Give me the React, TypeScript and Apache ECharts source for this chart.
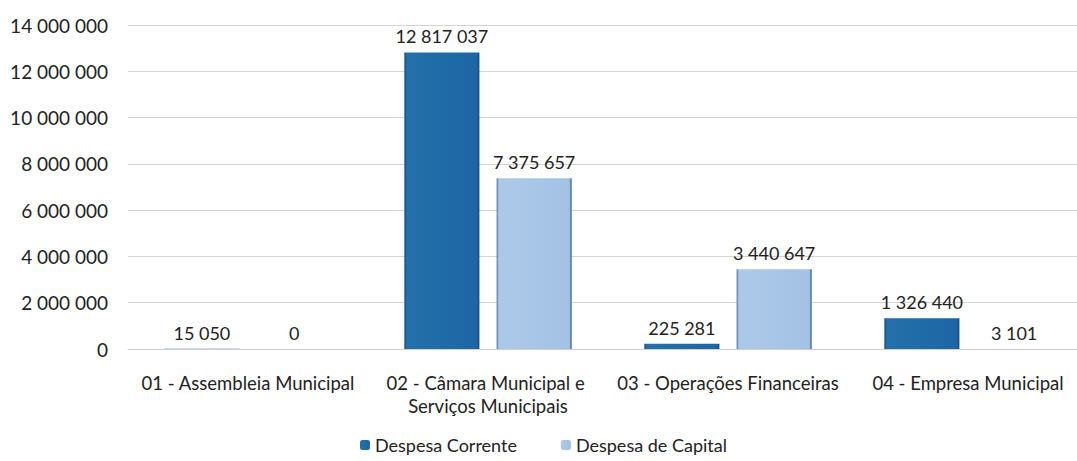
import React, { useEffect, useRef } from "react";
import * as echarts from "echarts";

const categories = [
  "01 - Assembleia Municipal",
  "02 - Câmara Municipal e Serviços Municipais",
  "03 - Operações Financeiras",
  "04 - Empresa Municipal",
];
const despesaCorrente = [15050, 12817037, 225281, 1326440];
const despesaCapital = [0, 7375657, 3440647, 3101];
const seriesNames = ["Despesa Corrente", "Despesa de Capital"];

const fmt = (v: number) => String(Math.round(v)).replace(/\B(?=(\d{3})+(?!\d))/g, " ");

const FONT = "Lato";

export default function App() {
  const ref = useRef<HTMLDivElement>(null);
  useEffect(() => {
    const chart = echarts.init(ref.current!, null, { renderer: "svg" });
    const labelCfg = {
      show: true,
      position: "top" as const,
      distance: 7,
      color: "#222",
      fontFamily: FONT,
      fontSize: 18,
      formatter: (p: any) => fmt(p.value),
    };
    chart.setOption({
      animation: false,
      backgroundColor: "#ffffff",
      grid: {
        left: 128,
        right: -11,
        top: 25,
        bottom: 112,
        containLabel: false,
        outerBoundsMode: "none",
      },
      legend: {
        bottom: 2,
        left: 355,
        itemWidth: 10,
        itemHeight: 10,
        itemGap: 44,
        textStyle: { fontFamily: FONT, fontSize: 18, color: "#222" },
        data: seriesNames,
      },
      xAxis: {
        type: "category",
        data: categories,
        axisLine: { show: true, lineStyle: { color: "#cfcfcf", width: 1 } },
        axisTick: { show: false },
        axisLabel: {
          interval: 0,
          color: "#222",
          fontFamily: FONT,
          fontSize: 18.5,
          margin: 22,
          lineHeight: 23,
          width: 252,
          overflow: "break",
        },
      },
      yAxis: {
        type: "value",
        min: 0,
        max: 14000000,
        interval: 2000000,
        axisLine: { show: false },
        axisTick: { show: false },
        splitLine: { lineStyle: { color: "#d4d4d4", width: 1 } },
        axisLabel: {
          color: "#222",
          fontFamily: FONT,
          fontSize: 19,
          margin: 20,
          formatter: (v: number) => fmt(v),
        },
      },
      series: [
        {
          name: seriesNames[0],
          type: "bar",
          data: despesaCorrente,
          barWidth: 75,
          barGap: "23%",
          itemStyle: {
            color: new echarts.graphic.LinearGradient(0, 0, 1, 0, [
              { offset: 0, color: "#123f78" },
              { offset: 0.03, color: "#2470ab" },
              { offset: 0.97, color: "#1c67a3" },
              { offset: 1, color: "#123f78" },
            ]),
            borderWidth: 0,
          },
          label: labelCfg,
        },
        {
          name: seriesNames[1],
          type: "bar",
          data: despesaCapital,
          barWidth: 75,
          itemStyle: {
            color: new echarts.graphic.LinearGradient(0, 0, 1, 0, [
              { offset: 0, color: "#4f70a8" },
              { offset: 0.03, color: "#acc9e8" },
              { offset: 0.97, color: "#a3c2e4" },
              { offset: 1, color: "#2c4f8e" },
            ]),
            borderWidth: 0,
          },
          label: labelCfg,
        },
      ],
    });
    return () => chart.dispose();
  }, []);
  return (
    <div
      ref={ref}
      style={{ position: "fixed", left: 0, top: 0, width: 1077, height: 461, overflow: "hidden" }}
    />
  );
}
